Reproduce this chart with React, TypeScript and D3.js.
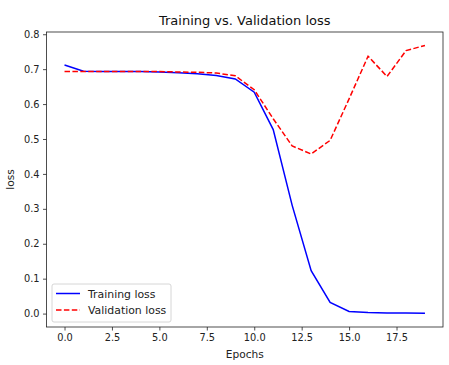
import { useRef, useEffect } from 'react';
import * as d3 from 'd3';

const epochs = d3.range(0, 20);
const trainingLoss = [0.712, 0.694, 0.693, 0.693, 0.693, 0.692, 0.690, 0.687, 0.682, 0.672, 0.634, 0.527, 0.31, 0.123, 0.032, 0.006, 0.003, 0.002, 0.0015, 0.001];
const validationLoss = [0.693, 0.693, 0.693, 0.693, 0.693, 0.693, 0.692, 0.691, 0.689, 0.681, 0.641, 0.558, 0.480, 0.457, 0.496, 0.615, 0.737, 0.679, 0.753, 0.768];
const xTicks = [0, 2.5, 5, 7.5, 10, 12.5, 15, 17.5];
const yTicks = [0, 0.1, 0.2, 0.3, 0.4, 0.5, 0.6, 0.7, 0.8];

const FONT = 'DejaVu Sans, sans-serif';

export default function App() {
  const svgRef = useRef<SVGSVGElement>(null);
  const width = 449;
  const height = 365;

  useEffect(() => {
    const svg = d3.select(svgRef.current);
    svg.selectAll('*').remove();

    const margin = { top: 32, right: 6, bottom: 38, left: 46.5 };
    const x = d3.scaleLinear().domain([-0.95, 19.95]).range([margin.left, width - margin.right]);
    const y = d3.scaleLinear().domain([-0.0384, 0.8064]).range([height - margin.bottom, margin.top]);

    // Lines
    const line = d3.line<number>()
      .x((_, i) => x(epochs[i]))
      .y(d => y(d));

    svg.append('path')
      .datum(trainingLoss)
      .attr('fill', 'none')
      .attr('stroke', '#0000ff')
      .attr('stroke-width', 1.5)
      .attr('d', line);

    svg.append('path')
      .datum(validationLoss)
      .attr('fill', 'none')
      .attr('stroke', '#ff0000')
      .attr('stroke-width', 1.5)
      .attr('stroke-dasharray', '5.5,2.4')
      .attr('d', line);

    // Axes
    const xAxis = d3.axisBottom(x).tickValues(xTicks).tickFormat(d3.format('.1f') as any).tickSize(3.5).tickPadding(3.5);
    const gx = svg.append('g')
      .attr('transform', `translate(0,${height - margin.bottom})`)
      .call(xAxis);
    const yAxis = d3.axisLeft(y).tickValues(yTicks).tickFormat(d3.format('.1f') as any).tickSize(3.5).tickPadding(3.5);
    const gy = svg.append('g')
      .attr('transform', `translate(${margin.left},0)`)
      .call(yAxis);
    [gx, gy].forEach(g => {
      g.select('.domain').remove();
      g.selectAll('text').attr('font-family', FONT).attr('font-size', 9.8).attr('fill', '#222');
      g.selectAll('line').attr('stroke', '#222').attr('stroke-width', 0.8);
    });

    // Frame
    svg.append('rect')
      .attr('x', margin.left)
      .attr('y', margin.top)
      .attr('width', width - margin.left - margin.right)
      .attr('height', height - margin.top - margin.bottom)
      .attr('fill', 'none')
      .attr('stroke', '#222')
      .attr('stroke-width', 0.8);

    // Title and labels
    svg.append('text')
      .attr('x', (margin.left + width - margin.right) / 2)
      .attr('y', 25)
      .attr('text-anchor', 'middle')
      .attr('font-family', FONT)
      .attr('font-size', 13)
      .attr('fill', '#111')
      .text('Training vs. Validation loss');

    svg.append('text')
      .attr('x', (margin.left + width - margin.right) / 2)
      .attr('y', 357.5)
      .attr('text-anchor', 'middle')
      .attr('font-family', FONT)
      .attr('font-size', 10.6)
      .attr('fill', '#222')
      .text('Epochs');

    svg.append('text')
      .attr('transform', `translate(13.5,${(margin.top + height - margin.bottom) / 2}) rotate(-90)`)
      .attr('text-anchor', 'middle')
      .attr('font-family', FONT)
      .attr('font-size', 10.6)
      .attr('fill', '#222')
      .text('loss');

    // Legend
    const legend = svg.append('g').attr('transform', `translate(${margin.left + 5.5},284)`);
    legend.append('rect')
      .attr('width', 119)
      .attr('height', 38)
      .attr('rx', 2)
      .attr('fill', 'white')
      .attr('fill-opacity', 0.8)
      .attr('stroke', '#ccc')
      .attr('stroke-width', 0.8);
    const items = [
      { label: 'Training loss', color: '#0000ff', dash: null },
      { label: 'Validation loss', color: '#ff0000', dash: '5.5,2.4' },
    ];
    items.forEach((it, i) => {
      const yy = 9.5 + i * 16.5;
      legend.append('line')
        .attr('x1', 4).attr('x2', 28)
        .attr('y1', yy).attr('y2', yy)
        .attr('stroke', it.color)
        .attr('stroke-width', 1.5)
        .attr('stroke-dasharray', it.dash);
      legend.append('text')
        .attr('x', 36)
        .attr('y', yy + 4)
        .attr('font-family', FONT)
        .attr('font-size', 10.9)
        .attr('fill', '#222')
        .text(it.label);
    });
  }, []);

  return (
    <svg ref={svgRef} width={width} height={height} style={{ position: 'absolute', left: 0, top: 0, background: 'white' }} />
  );
}
